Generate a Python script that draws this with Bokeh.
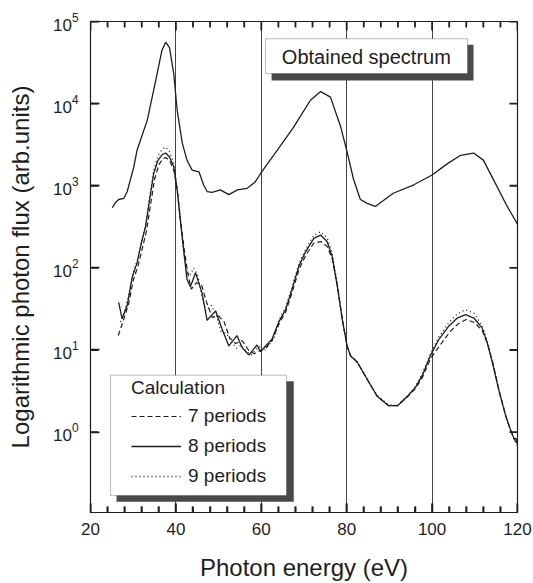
from bokeh.plotting import figure
from bokeh.models import (Range1d, FixedTicker, BoxAnnotation, Label, Legend, LegendItem)
from bokeh.embed import file_html
from bokeh.resources import INLINE

# ---------------- data ----------------
# Obtained (measured) spectrum
obs_energy = [25.1, 25.8, 26.6, 27.8, 28.6, 30.1, 30.9, 33.3, 35.6, 36.7, 37.6, 38.5, 39.5, 40.3,
              41.5, 42.6, 43.8, 45.4, 46.5, 47.3, 48.5, 50.4, 52.4, 54.4, 56.7, 58.5, 59.8, 63.5,
              67.5, 71.5, 73.9, 76.2, 78.6, 80.2, 81.6, 83.2, 84.8, 86.7, 90.9, 95.6, 100.0,
              103.6, 106.7, 109.7, 112.0, 114.4, 117.6, 120.0]
obs_flux = [540, 620, 680, 700, 850, 1660, 2700, 6300, 23000, 44000, 56000, 48000, 23000, 8300,
            3300, 2040, 1550, 1480, 1020, 850, 830, 890, 780, 890, 930, 1100, 1400, 2600,
            5100, 11000, 14000, 12000, 5200, 2450, 1200, 680, 610, 560, 810, 1020, 1350,
            1860, 2350, 2500, 2050, 1180, 560, 340]

# Calculation: 7 periods
e7 = [26.5, 27.7, 28.9, 30.0, 31.1, 32.1, 33.1, 33.8, 35.0, 36.0, 37.0, 37.7, 38.6, 39.6, 40.4,
      41.2, 42.0, 42.8, 43.6, 44.8, 46.0, 47.2, 48.5, 50.0, 51.3, 52.6, 54.0, 55.5, 57.0, 58.3,
      59.6, 61.0, 62.5, 64.2, 65.8, 67.3, 68.9, 70.5, 72.3, 74.0, 75.5, 76.7, 77.9, 79.0, 80.1,
      80.9, 82.5, 84.8, 87.1, 89.8, 91.9, 94.3, 96.1, 97.7, 99.6, 102.3, 104.3, 106.2, 108.0,
      110.0, 111.8, 113.0, 114.2, 115.6, 117.2, 118.4, 119.2, 120.0]
f7 = [15, 23, 36, 70, 105, 170, 280, 480, 1200, 1800, 2150, 2200, 2000, 1500, 800,
      340, 160, 85, 55, 66, 62, 38, 25, 26, 22, 14, 12, 13, 10, 9,
      9.8, 10.5, 13, 21, 30, 52, 98, 145, 200, 209, 180, 125, 57, 23, 11.2,
      8.5, 7.1, 4.4, 2.75, 2.1, 2.1, 2.7, 3.4, 4.6, 7.8, 12.3, 17, 21, 23.5,
      21.5, 17, 11.8, 7.1, 3.3, 1.6, 1.05, 0.83, 0.69]

# Calculation: 8 periods
e8 = [26.6, 27.4, 28.6, 29.8, 30.9, 31.9, 32.9, 33.6, 34.8, 35.8, 36.8, 37.6, 38.5, 39.5, 40.3,
      41.1, 41.9, 42.6, 43.4, 44.6, 46.1, 47.3, 49.3, 50.8, 52.4, 54.3, 55.5, 57.1, 59.0, 59.8,
      61.0, 62.5, 64.1, 65.7, 67.2, 68.8, 70.4, 72.3, 73.9, 75.4, 76.6, 77.8, 79.0, 80.1, 80.9,
      82.5, 84.8, 87.1, 89.8, 91.9, 94.3, 96.1, 97.7, 99.6, 101.6, 103.9, 105.9, 107.8, 109.8,
      111.7, 112.9, 114.1, 115.6, 117.2, 118.4, 119.2, 119.7, 120.0]
f8 = [38, 24, 35, 78, 115, 200, 320, 560, 1410, 2040, 2400, 2500, 2240, 1700, 890,
      355, 150, 72, 59, 87, 50, 23, 30, 18, 11.2, 15, 10.7, 8.7, 11.5, 9.5,
      11.2, 13.5, 22, 31, 55, 105, 158, 229, 251, 209, 138, 60, 23, 11.2, 8.5,
      7.1, 4.4, 2.75, 2.1, 2.1, 2.75, 3.5, 4.9, 8.5, 13.5, 19.5, 24.5, 27, 24.5,
      18.6, 12.3, 7.1, 3.3, 1.6, 1.05, 0.83, 0.83, 0.69]

# Calculation: 9 periods
e9 = [27.0, 27.6, 28.7, 29.9, 31.0, 32.0, 33.0, 33.6, 34.8, 35.8, 36.8, 37.6, 38.5, 39.4, 40.3,
      41.1, 41.8, 42.5, 43.2, 44.2, 45.2, 46.2, 47.0, 48.3, 49.5, 50.5, 51.8, 53.0, 54.2, 55.3,
      56.5, 57.6, 58.6, 59.6, 60.5, 61.8, 63.0, 64.1, 65.7, 67.2, 68.8, 70.4, 72.3, 73.9, 75.4,
      76.6, 77.8, 79.0, 80.1, 80.9, 82.5, 84.8, 87.1, 89.8, 91.9, 94.3, 96.1, 97.7, 99.6,
      101.6, 103.9, 105.9, 107.8, 109.8, 111.7, 112.9, 114.1, 115.6, 117.2, 118.4, 119.2, 120.0]
f9 = [22, 26, 40, 85, 125, 215, 350, 600, 1550, 2300, 2800, 2950, 2600, 1950, 950,
      370, 160, 95, 80, 100, 78, 42, 30, 35, 26, 17, 16, 12.6, 10.5, 11.5,
      9.6, 8.7, 10, 11, 9.6, 11.5, 14, 23, 33, 58, 112, 170, 250, 275, 235,
      150, 63, 23, 11.2, 8.5, 7.1, 4.4, 2.8, 2.15, 2.1, 2.8, 3.6, 5.1, 9,
      14.5, 21.5, 27.5, 31, 28, 20, 13, 7.3, 3.3, 1.6, 1.05, 0.83, 0.69]

x_ticks = [20, 40, 60, 80, 100, 120]
x_minor_ticks = [24, 28, 32, 36, 44, 48, 52, 56, 64, 68, 72, 76, 84, 88, 92, 96, 104, 108, 112, 116]
y_ticks = [1, 10, 100, 1000, 10000, 100000]
grid_lines = [40, 60, 80, 100]
series_labels = ["7 periods", "8 periods", "9 periods"]

FONT = "Liberation Sans"
INK = "#1e1e1e"
X_MIN, X_MAX = 20, 120
Y_MIN, Y_MAX = 0.105, 1e5
# frame scale (pixels) used only to size the inward tick marks
PX_PER_EV = 427 / 100
PX_PER_DECADE = 493 / 5.979

p = figure(width=533, height=583, y_axis_type="log",
           x_range=Range1d(X_MIN, X_MAX), y_range=Range1d(Y_MIN, Y_MAX),
           output_backend="svg", toolbar_location=None,
           min_border_left=90, min_border_right=16, min_border_top=21, min_border_bottom=69)
p.background_fill_color = "white"
p.border_fill_color = "white"
p.outline_line_color = INK
p.outline_line_width = 1.2

# grid
p.xgrid.ticker = FixedTicker(ticks=grid_lines)
p.xgrid.grid_line_color = "#444444"
p.xgrid.grid_line_width = 1
p.ygrid.grid_line_color = None

# axes with inward ticks
xa = p.xaxis[0]
xa.ticker = FixedTicker(ticks=x_ticks, minor_ticks=x_minor_ticks)
xa.axis_label = "Photon energy (eV)"
ya = p.yaxis[0]
ya.axis_label = "Logarithmic photon flux (arb.units)"
ya.ticker = FixedTicker(ticks=y_ticks)
for ax in (xa, ya):
    ax.axis_line_color = None
    ax.major_tick_line_color = INK
    ax.minor_tick_line_color = INK
    ax.major_tick_line_width = 1.5
    ax.minor_tick_line_width = 1.5
    ax.major_tick_in = 9
    ax.minor_tick_in = 6
    ax.major_tick_out = 0
    ax.minor_tick_out = 0
    ax.major_label_text_font = FONT
    ax.major_label_text_font_size = "17px"
    ax.major_label_text_color = INK
    ax.axis_label_text_font = FONT
    ax.axis_label_text_font_size = "24px"
    ax.axis_label_text_font_style = "normal"
    ax.axis_label_text_color = INK
ya.minor_tick_line_color = None
xa.major_label_standoff = 10
xa.axis_label_standoff = 16
ya.major_label_standoff = 12
ya.axis_label_standoff = 16

# inward ticks on all four sides (drawn as glyphs as well)
def up(px):
    return 10 ** (px / PX_PER_DECADE)

tk = dict(line_color=INK, line_width=1.8)
p.segment(x0=x_ticks, y0=[Y_MIN] * 6, x1=x_ticks, y1=[Y_MIN * up(9)] * 6, **tk)
p.segment(x0=x_minor_ticks, y0=[Y_MIN] * 20, x1=x_minor_ticks, y1=[Y_MIN * up(6)] * 20, **tk)
p.segment(x0=x_ticks, y0=[Y_MAX] * 6, x1=x_ticks, y1=[Y_MAX / up(9)] * 6, **tk)
p.segment(x0=x_minor_ticks, y0=[Y_MAX] * 20, x1=x_minor_ticks, y1=[Y_MAX / up(6)] * 20, **tk)
p.segment(x0=[X_MIN] * 6, y0=y_ticks, x1=[X_MIN + 8 / PX_PER_EV] * 6, y1=y_ticks, **tk)
p.segment(x0=[X_MAX] * 6, y0=y_ticks, x1=[X_MAX - 8 / PX_PER_EV] * 6, y1=y_ticks, **tk)

# curves
p.line(obs_energy, obs_flux, line_color=INK, line_width=1.3)
r7 = p.line(e7, f7, line_color=INK, line_width=1.2, line_dash="5 3")
r8 = p.line(e8, f8, line_color=INK, line_width=1.3)
r9 = p.line(e9, f9, line_color=INK, line_width=1.3, line_dash="1 3")

# "Obtained spectrum" box with shadow
p.add_layout(BoxAnnotation(left=62.4, right=109.7, top=52240, bottom=19100,
                           fill_color="#4a4a4a", fill_alpha=1, line_color=None))
p.add_layout(BoxAnnotation(left=61.0, right=108.3, top=61660, bottom=23230,
                           fill_color="white", fill_alpha=1, line_color=INK, line_width=1))
p.add_layout(Label(x=84.6, y=37330, text="Obtained spectrum", text_align="center",
                   text_baseline="middle", text_font=FONT, text_font_size="20px",
                   text_color=INK))

# "Calculation" legend box with shadow
p.add_layout(BoxAnnotation(left=26.1, right=67.6, top=4.17, bottom=0.142,
                           fill_color="#4a4a4a", fill_alpha=1, line_color=None))
p.add_layout(BoxAnnotation(left=24.7, right=65.9, top=4.93, bottom=0.1687,
                           fill_color="white", fill_alpha=1, line_color=INK, line_width=1))

legend = Legend(items=[LegendItem(label=series_labels[0], renderers=[r7]),
                       LegendItem(label=series_labels[1], renderers=[r8]),
                       LegendItem(label=series_labels[2], renderers=[r9])],
                location=(41, 25), title="Calculation",
                title_text_font=FONT, title_text_font_size="19px", title_text_font_style="normal",
                title_text_color=INK, title_standoff=6,
                label_text_font=FONT, label_text_font_size="19px", label_text_color=INK,
                glyph_width=50, glyph_height=20, label_height=20, label_standoff=7,
                spacing=8, padding=0, margin=0,
                border_line_color=None, background_fill_alpha=0)
p.add_layout(legend)

html = file_html(p, INLINE)
open("out.html", "w").write(html)
